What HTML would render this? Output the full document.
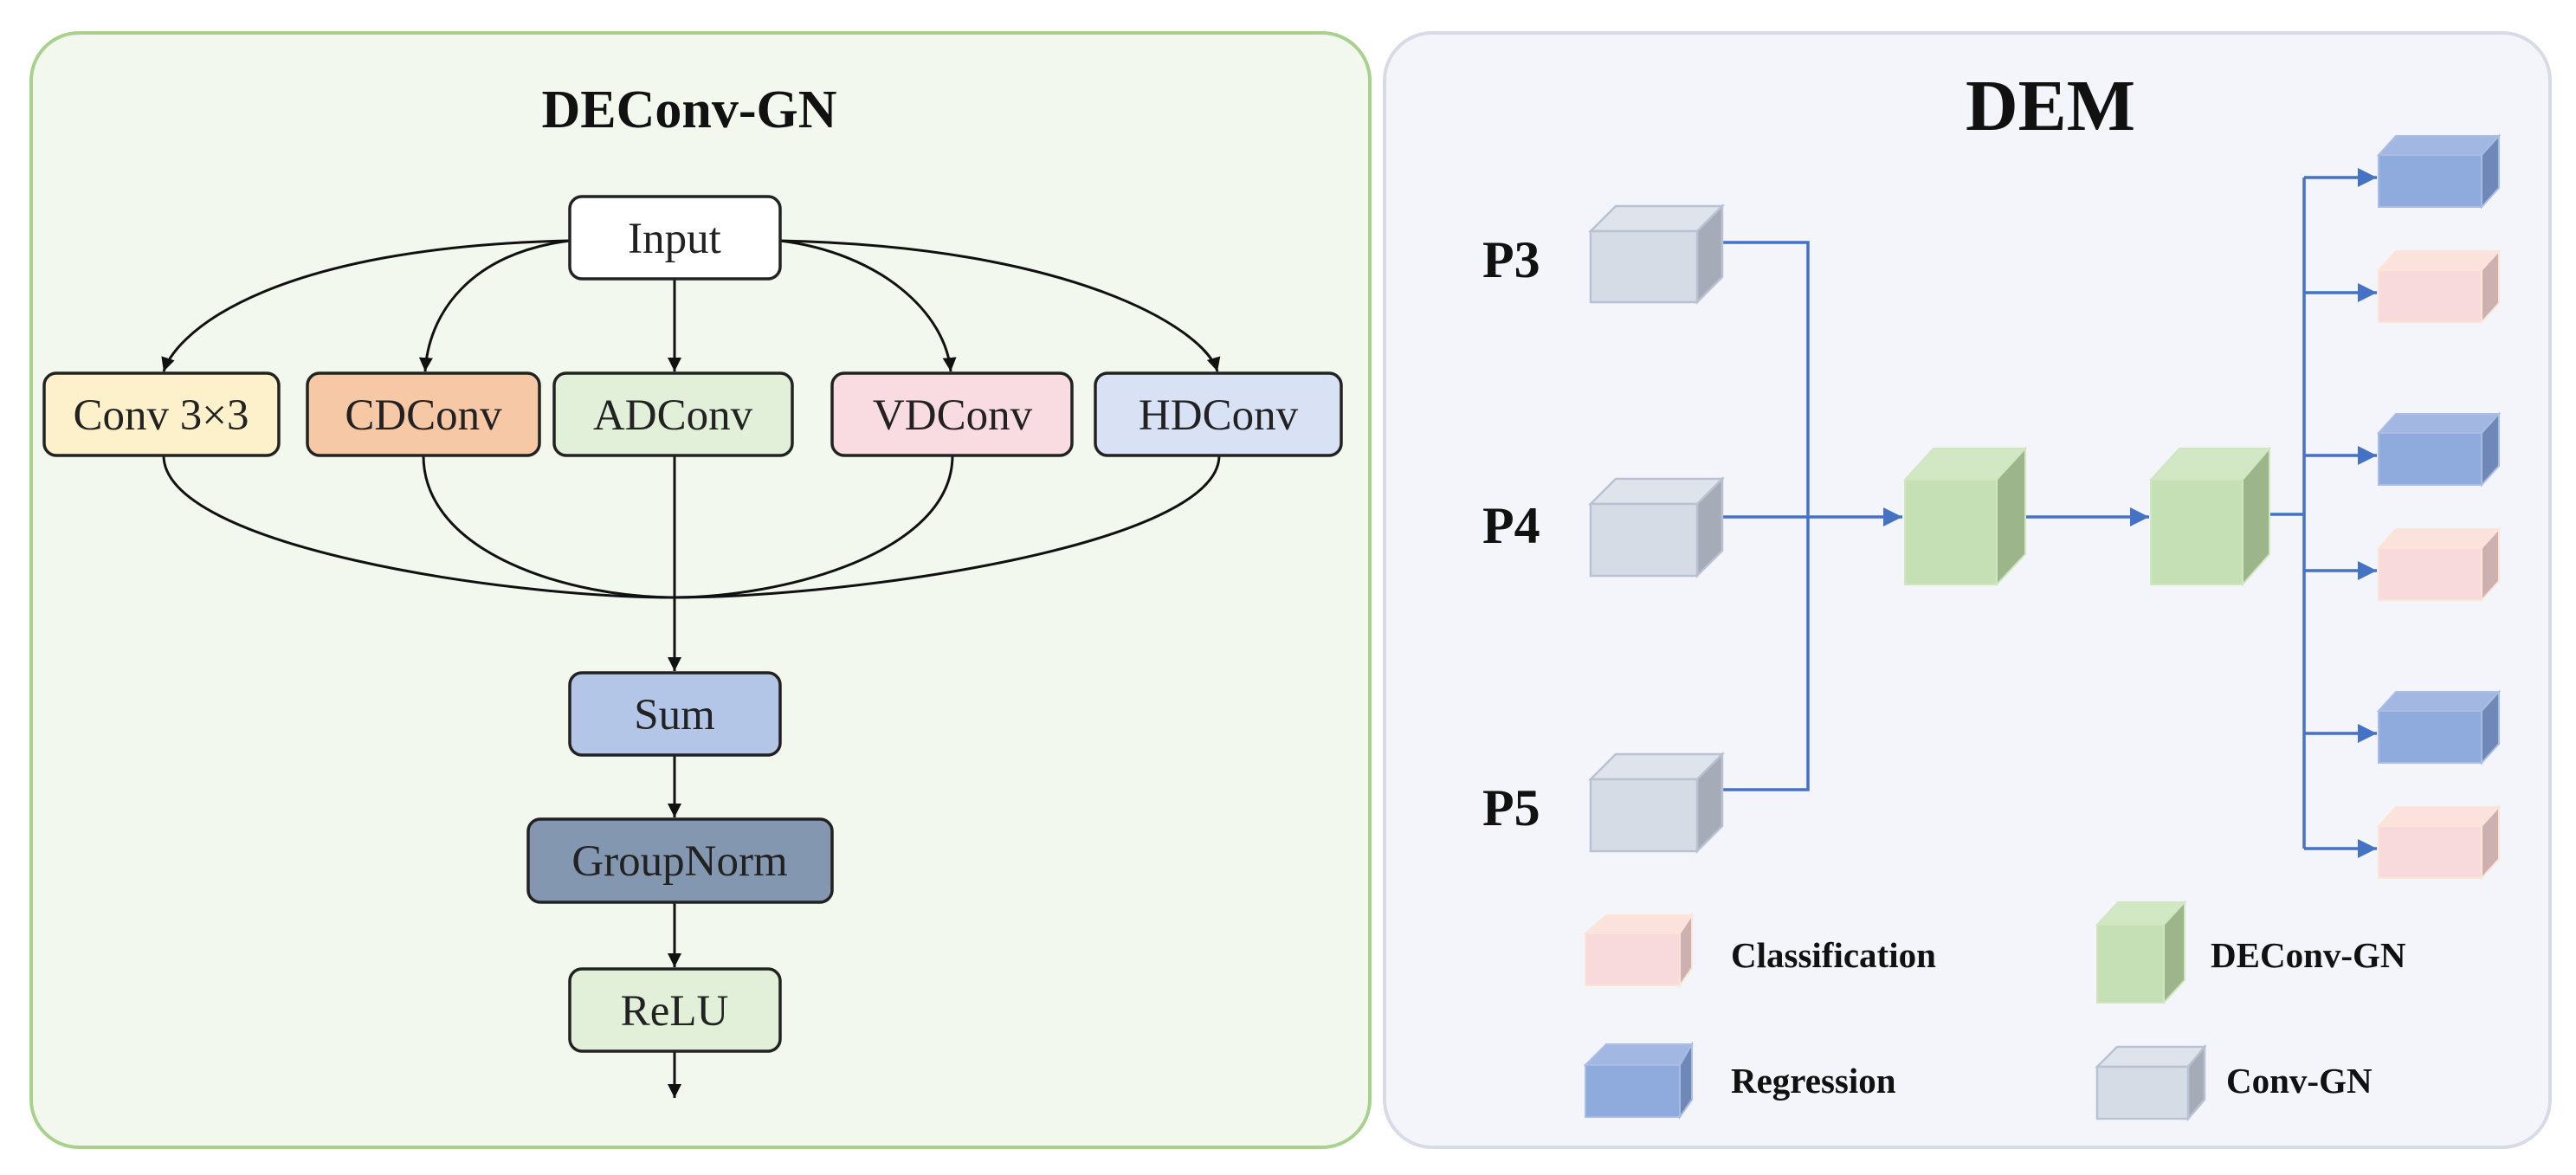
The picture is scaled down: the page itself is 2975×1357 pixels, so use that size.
<!DOCTYPE html>
<html><head><meta charset="utf-8"><style>
html,body{margin:0;padding:0;background:#fff}
svg{display:block}
text{font-family:"Liberation Serif",serif}
</style></head><body>
<svg width="2975" height="1357" viewBox="0 0 2975 1357" xmlns="http://www.w3.org/2000/svg">
<defs>
<marker id="ak" markerUnits="userSpaceOnUse" markerWidth="20" markerHeight="20" refX="16" refY="8" orient="auto"><path d="M0,0 L16,8 L0,16 Z" fill="#111"/></marker>
<marker id="ab" markerUnits="userSpaceOnUse" markerWidth="26" markerHeight="24" refX="22" refY="11" orient="auto"><path d="M0,0 L22,11 L0,22 Z" fill="#4472c4"/></marker>
</defs>
<rect x="36" y="38" width="1546" height="1287" rx="55" fill="#f3f8ef" stroke="#a9d18e" stroke-width="4"/>
<rect x="1599" y="38" width="1346" height="1287" rx="55" fill="#f4f5fa" stroke="#d6dbe6" stroke-width="4"/>
<text x="796" y="147" font-size="62" font-weight="bold" text-anchor="middle" fill="#111">DEConv-GN</text>
<text x="2368" y="150" font-size="84" font-weight="bold" text-anchor="middle" fill="#111">DEM</text>
<g fill="none" stroke="#111" stroke-width="3">
<path d="M658,278 C 320,285 205,380 189,429" marker-end="url(#ak)"/>
<path d="M658,278 C 545,292 495,360 491,429" marker-end="url(#ak)"/>
<path d="M779,322 L779,429" marker-end="url(#ak)"/>
<path d="M901,278 C 1015,292 1092,360 1098,429" marker-end="url(#ak)"/>
<path d="M901,278 C 1240,285 1392,380 1406,429" marker-end="url(#ak)"/>
<path d="M189,526 C 189,630 580,690 779,690"/>
<path d="M489,526 C 489,640 660,690 779,690"/>
<path d="M1100,526 C 1100,640 900,690 779,690"/>
<path d="M1408,526 C 1408,630 980,690 779,690"/>
<path d="M779,526 L779,775" marker-end="url(#ak)"/>
<path d="M779,872 L779,944" marker-end="url(#ak)"/>
<path d="M779,1042 L779,1117" marker-end="url(#ak)"/>
<path d="M779,1214 L779,1268" marker-end="url(#ak)"/>
</g>
<g stroke="#222" stroke-width="3.5">
<rect x="658" y="227" width="243" height="95" rx="14" fill="#ffffff"/>
<rect x="51" y="431" width="271" height="95" rx="14" fill="#fdf1cc"/>
<rect x="355" y="431" width="268" height="95" rx="14" fill="#f6c8a6"/>
<rect x="640" y="431" width="275" height="95" rx="14" fill="#e2efd9"/>
<rect x="961" y="431" width="277" height="95" rx="14" fill="#f9dce1"/>
<rect x="1265" y="431" width="284" height="95" rx="14" fill="#d9e1f4"/>
<rect x="658" y="777" width="243" height="95" rx="14" fill="#b4c6e7"/>
<rect x="610" y="946" width="351" height="96" rx="14" fill="#8497b0"/>
<rect x="658" y="1119" width="243" height="95" rx="14" fill="#e2efd9"/>
</g>
<g font-size="51" text-anchor="middle" fill="#222">
<text x="779" y="292">Input</text>
<text x="186" y="496">Conv 3×3</text>
<text x="489" y="496">CDConv</text>
<text x="777" y="496">ADConv</text>
<text x="1100" y="496">VDConv</text>
<text x="1407" y="496">HDConv</text>
<text x="779" y="842">Sum</text>
<text x="785" y="1011">GroupNorm</text>
<text x="779" y="1184">ReLU</text>
</g>
<g font-size="60" font-weight="bold" fill="#111">
<text x="1712" y="320">P3</text>
<text x="1712" y="627">P4</text>
<text x="1712" y="953">P5</text>
</g>
<g fill="none" stroke="#4472c4" stroke-width="3.5">
<path d="M1989,280 L2088,280 L2088,912 L1989,912"/>
<path d="M1989,597 L2197,597" marker-end="url(#ab)"/>
<path d="M2339,597 L2482,597" marker-end="url(#ab)"/>
<path d="M2621,594 L2661,594"/>
<path d="M2661,205 L2661,980"/>
<path d="M2661,205 L2745,205" marker-end="url(#ab)"/>
<path d="M2661,338 L2745,338" marker-end="url(#ab)"/>
<path d="M2661,526 L2745,526" marker-end="url(#ab)"/>
<path d="M2661,659 L2745,659" marker-end="url(#ab)"/>
<path d="M2661,847 L2745,847" marker-end="url(#ab)"/>
<path d="M2661,980 L2745,980" marker-end="url(#ab)"/>
</g>
<g stroke="#b8c2d2" stroke-width="2.5">
<g><path d="M1837,267 L1866,238 L1989,238 L1960,267 Z" fill="#dfe4ec"/><path d="M1960,267 L1989,238 L1989,320 L1960,349 Z" fill="#a5acb8"/><rect x="1837" y="267" width="123" height="82" fill="#d6dce5"/></g>
<g><path d="M1837,582 L1866,553 L1989,553 L1960,582 Z" fill="#dfe4ec"/><path d="M1960,582 L1989,553 L1989,636 L1960,665 Z" fill="#a5acb8"/><rect x="1837" y="582" width="123" height="83" fill="#d6dce5"/></g>
<g><path d="M1837,900 L1866,871 L1989,871 L1960,900 Z" fill="#dfe4ec"/><path d="M1960,900 L1989,871 L1989,954 L1960,983 Z" fill="#a5acb8"/><rect x="1837" y="900" width="123" height="83" fill="#d6dce5"/></g>
<g><path d="M2422,1232 L2445,1209 L2546,1209 L2527,1232 Z" fill="#dfe4ec"/><path d="M2527,1232 L2546,1209 L2546,1270 L2527,1292 Z" fill="#a5acb8"/><rect x="2422" y="1232" width="105" height="60" fill="#d6dce5"/></g>
</g>
<g stroke="#cfe6bf" stroke-width="2">
<g><path d="M2200,554 L2233,518 L2339,518 L2306,554 Z" fill="#d2e8c4"/><path d="M2306,554 L2339,518 L2339,640 L2306,675 Z" fill="#9cb58b"/><rect x="2200" y="554" width="106" height="121" fill="#c5e0b4"/></g>
<g><path d="M2484,554 L2517,518 L2621,518 L2590,554 Z" fill="#d2e8c4"/><path d="M2590,554 L2621,518 L2621,640 L2590,675 Z" fill="#9cb58b"/><rect x="2484" y="554" width="106" height="121" fill="#c5e0b4"/></g>
<g><path d="M2422,1068 L2446,1042 L2523,1042 L2499,1068 Z" fill="#d2e8c4"/><path d="M2499,1068 L2523,1042 L2523,1132 L2499,1158 Z" fill="#9cb58b"/><rect x="2422" y="1068" width="77" height="90" fill="#c5e0b4"/></g>
</g>
<g stroke="#a9bce4" stroke-width="2">
<g><path d="M2747,179 L2767,157 L2886,157 L2866,179 Z" fill="#a2b8e2"/><path d="M2866,179 L2886,157 L2886,217 L2866,239 Z" fill="#6f88b8"/><rect x="2747" y="179" width="119" height="60" fill="#8faadc"/></g>
<g><path d="M2747,500 L2767,478 L2886,478 L2866,500 Z" fill="#a2b8e2"/><path d="M2866,500 L2886,478 L2886,538 L2866,560 Z" fill="#6f88b8"/><rect x="2747" y="500" width="119" height="60" fill="#8faadc"/></g>
<g><path d="M2747,821 L2767,799 L2886,799 L2866,821 Z" fill="#a2b8e2"/><path d="M2866,821 L2886,799 L2886,859 L2866,881 Z" fill="#6f88b8"/><rect x="2747" y="821" width="119" height="60" fill="#8faadc"/></g>
<g><path d="M1831,1230 L1855,1206 L1954,1206 L1940,1230 Z" fill="#a2b8e2"/><path d="M1940,1230 L1954,1206 L1954,1270 L1940,1290 Z" fill="#6f88b8"/><rect x="1831" y="1230" width="109" height="60" fill="#8faadc"/></g>
</g>
<g stroke="#fbe5d6" stroke-width="2">
<g><path d="M2747,312 L2767,290 L2886,290 L2866,312 Z" fill="#fbe2dc"/><path d="M2866,312 L2886,290 L2886,350 L2866,372 Z" fill="#cdb0b0"/><rect x="2747" y="312" width="119" height="60" fill="#f8dadd"/></g>
<g><path d="M2747,633 L2767,611 L2886,611 L2866,633 Z" fill="#fbe2dc"/><path d="M2866,633 L2886,611 L2886,671 L2866,693 Z" fill="#cdb0b0"/><rect x="2747" y="633" width="119" height="60" fill="#f8dadd"/></g>
<g><path d="M2747,954 L2767,932 L2886,932 L2866,954 Z" fill="#fbe2dc"/><path d="M2866,954 L2886,932 L2886,992 L2866,1014 Z" fill="#cdb0b0"/><rect x="2747" y="954" width="119" height="60" fill="#f8dadd"/></g>
<g><path d="M1831,1078 L1855,1057 L1954,1057 L1940,1078 Z" fill="#fbe2dc"/><path d="M1940,1078 L1954,1057 L1954,1118 L1940,1138 Z" fill="#cdb0b0"/><rect x="1831" y="1078" width="109" height="60" fill="#f8dadd"/></g>
</g>
<g font-size="41" font-weight="bold" fill="#111">
<text x="1999" y="1117">Classification</text>
<text x="2553" y="1117">DEConv-GN</text>
<text x="1999" y="1262">Regression</text>
<text x="2571" y="1262">Conv-GN</text>
</g>
</svg>
</body></html>
